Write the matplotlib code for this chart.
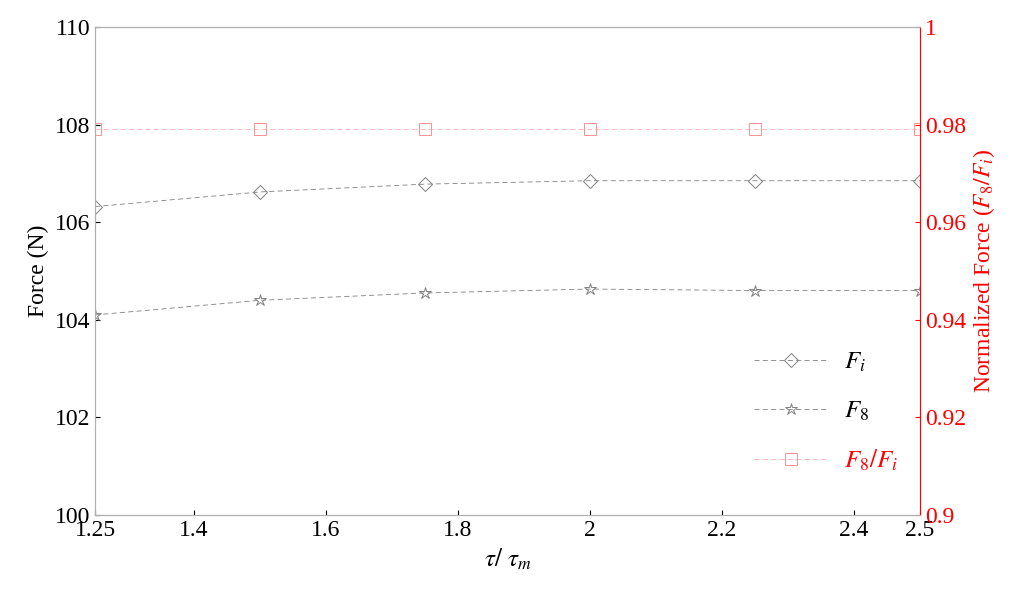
import matplotlib
matplotlib.use("Agg")
import matplotlib.pyplot as plt

x = [1.25, 1.5, 1.75, 2.0, 2.25, 2.5]
Fi = [106.32, 106.62, 106.78, 106.85, 106.85, 106.85]
F8 = [104.10, 104.40, 104.55, 104.63, 104.60, 104.60]
ratio = [0.979, 0.979, 0.979, 0.979, 0.979, 0.979]

plt.rcParams['font.family'] = ['Liberation Serif', 'DejaVu Serif']
plt.rcParams['mathtext.fontset'] = 'stix'

fig = plt.figure(figsize=(10.24, 5.98), dpi=100)
ax = fig.add_axes([95/1024, 1-515/598, 825/1024, 488/598])
l1, = ax.plot(x, Fi, ls='--', lw=0.6, color='#808080', marker='D', ms=7, mfc='none', mec='#808080', mew=0.7, dashes=(6, 4))
l2, = ax.plot(x, F8, ls='--', lw=0.6, color='#808080', marker='*', ms=9, mfc='none', mec='#808080', mew=0.7, dashes=(6, 4))
ax.set_xlim(1.25, 2.5)
ax.set_ylim(100, 110)
ax.set_xticks([1.25, 1.4, 1.6, 1.8, 2.0, 2.2, 2.4, 2.5])
ax.set_xticklabels(['1.25', '1.4', '1.6', '1.8', '2', '2.2', '2.4', '2.5'])
ax.set_yticks([100, 102, 104, 106, 108, 110])
ax.tick_params(labelsize=17, direction='in')
ax.set_xlabel(r'$\tau/\ \tau_m$', fontsize=18)
ax.set_ylabel('Force (N)', fontsize=17)
for s in ax.spines.values():
    s.set_color('#b0b0b0')

ax2 = ax.twinx()
l3, = ax2.plot(x, ratio, ls='--', lw=0.6, color='#ffb0b0', marker='s', ms=8, mfc='none', mec='#ff9090', mew=0.7, dashes=(6, 4))
ax2.set_ylim(0.9, 1.0)
ax2.set_yticks([0.9, 0.92, 0.94, 0.96, 0.98, 1.0])
ax2.set_yticklabels(['0.9', '0.92', '0.94', '0.96', '0.98', '1'])
ax2.tick_params(labelsize=17, colors='red', direction='in')
ax2.set_ylabel(r'Normalized Force ($F_8/F_i$)', fontsize=17, color='red')
ax2.spines['right'].set_color('red')
for s in ['left', 'top', 'bottom']:
    ax2.spines[s].set_color('#b0b0b0')

leg = ax2.legend([l1, l2, l3], [r'$F_i$', r'$F_8$', r'$F_8/F_i$'], loc='lower right',
                 bbox_to_anchor=(1.0, 0.04), frameon=False, fontsize=18, handlelength=3,
                 handletextpad=0.6, labelspacing=1.0)
leg.get_texts()[2].set_color('red')
fig.savefig('out.png', dpi=100)
